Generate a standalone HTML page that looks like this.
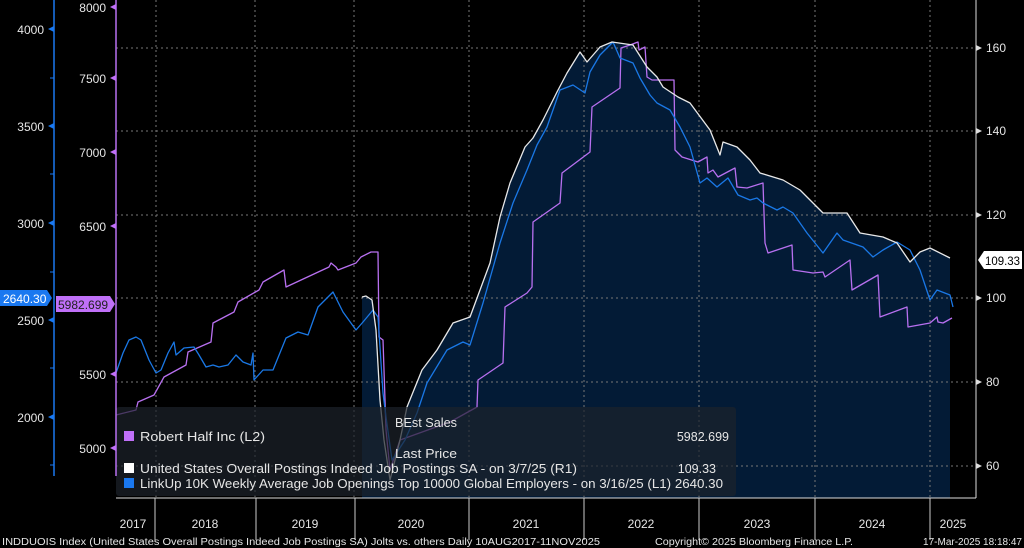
<!DOCTYPE html>
<html><head><meta charset="utf-8"><style>
html,body{margin:0;padding:0;background:#000;}
svg{display:block;font-family:"Liberation Sans",sans-serif;}
</style></head><body>
<svg width="1024" height="548" viewBox="0 0 1024 548">
<rect width="1024" height="548" fill="#000"/>
<polygon fill="#031b36" points="362,297 366,296 372,300 376,330 380,400 384,440 390,480 400,440 407,407 422,370 437,350 453,323 470,317 480,290 490,263 500,217 510,183 525,147 533,138 543,120 557,92 567,73 580,52 587,62 600,47 612,42 633,45 647,67 657,77 663,87 678,97 690,103 710,130 720,155 723,142 737,147 750,160 760,173 783,180 800,190 823,213 847,213 860,233 883,237 897,243 910,262 920,252 930,248 950,258 950,498 362,498"/>
<g stroke="#777" stroke-width="1" stroke-dasharray="2,3">
<line x1="116" y1="48" x2="976" y2="48"/><line x1="116" y1="131" x2="976" y2="131"/>
<line x1="116" y1="215" x2="976" y2="215"/><line x1="116" y1="298" x2="976" y2="298"/>
<line x1="116" y1="382" x2="976" y2="382"/><line x1="116" y1="466" x2="976" y2="466"/>
<line x1="156" y1="0" x2="156" y2="498"/><line x1="255" y1="0" x2="255" y2="498"/>
<line x1="354" y1="0" x2="354" y2="498"/><line x1="469" y1="0" x2="469" y2="498"/>
<line x1="584" y1="0" x2="584" y2="498"/><line x1="699" y1="0" x2="699" y2="498"/>
<line x1="815" y1="0" x2="815" y2="498"/><line x1="930" y1="0" x2="930" y2="498"/>
</g>
<g fill="none" stroke-width="1.3" stroke-linejoin="round">
<polyline stroke="#b870f0" points="116,415 136,410 138,402 154,395 164,377 186,365 188,352 211,342 213,323 234,312 238,302 259,290 263,282 284,270 286,287 329,267 331,263 336,267 338,270 356,263 361,257 371,252 378,252 379,337 383,340 386,430 390,470 400,440 450,422 477,407 478,380 503,363 505,307 527,293 532,287 533,222 560,203 562,173 590,152 592,107 620,88 621,48 630,45 638,42 639,50 645,47 647,77 652,80 674,80 675,150 682,157 698,162 707,157 708,173 713,170 718,177 735,168 737,187 747,188 763,183 765,243 768,253 777,250 792,245 793,270 813,273 823,272 825,277 850,260 852,290 878,275 880,317 907,307 908,327 930,323 937,317 938,322 943,323 952,318"/>
<polyline stroke="#1a78e6" points="116,373 123,353 129,340 136,337 141,340 149,360 156,373 161,370 168,353 174,342 176,355 184,348 194,347 199,355 206,367 213,365 219,367 228,365 236,355 243,362 251,365 253,353 254,380 263,370 273,370 286,338 298,332 308,335 318,307 333,292 343,312 356,330 363,322 373,310 378,317 383,393 386,417 392,460 405,440 417,413 427,383 447,350 463,342 470,345 483,303 500,243 513,203 527,170 537,145 547,127 560,90 573,85 585,93 590,72 600,55 613,42 620,58 633,63 640,78 650,95 657,103 670,110 680,127 690,147 700,183 707,178 717,187 728,178 738,195 750,200 757,198 763,203 777,210 783,207 793,213 807,233 823,253 837,233 843,240 863,247 873,257 883,250 897,242 910,250 920,270 930,300 937,290 950,295 953,307"/>
<polyline stroke="#e8e8e8" points="362,297 366,296 372,300 376,330 380,400 384,440 390,480 400,440 407,407 422,370 437,350 453,323 470,317 480,290 490,263 500,217 510,183 525,147 533,138 543,120 557,92 567,73 580,52 587,62 600,47 612,42 633,45 647,67 657,77 663,87 678,97 690,103 710,130 720,155 723,142 737,147 750,160 760,173 783,180 800,190 823,213 847,213 860,233 883,237 897,243 910,262 920,252 930,248 950,258"/>
</g>
<rect x="116" y="407" width="620" height="89" rx="3" fill="#1c222b" fill-opacity="0.7"/>
<g font-size="12.5" fill="#e6e6e6">
<text x="395" y="427" textLength="62" lengthAdjust="spacingAndGlyphs">BEst Sales</text>
<rect x="124" y="431" width="10" height="10" fill="#c070f8"/>
<text x="140" y="441" textLength="125" lengthAdjust="spacingAndGlyphs">Robert Half Inc  (L2)</text>
<text x="729" y="441" text-anchor="end">5982.699</text>
<text x="395" y="458" textLength="62" lengthAdjust="spacingAndGlyphs">Last Price</text>
<rect x="124" y="463" width="10" height="10" fill="#fff"/>
<text x="140" y="473" textLength="437" lengthAdjust="spacingAndGlyphs">United States Overall Postings Indeed Job Postings SA -  on 3/7/25  (R1)</text>
<text x="716" y="473" text-anchor="end">109.33</text>
<rect x="124" y="478" width="10" height="10" fill="#1a78f0"/>
<text x="140" y="488" textLength="583" lengthAdjust="spacingAndGlyphs">LinkUp 10K Weekly Average Job Openings Top 10000 Global Employers -  on 3/16/25  (L1) 2640.30</text>
</g>
<line x1="54" y1="0" x2="54" y2="476" stroke="#1a78f0" stroke-width="1.5"/>
<line x1="116" y1="0" x2="116" y2="476" stroke="#b870f0" stroke-width="1.5"/>
<line x1="976" y1="0" x2="976" y2="498" stroke="#ddd" stroke-width="1"/>
<line x1="116" y1="498" x2="976" y2="498" stroke="#ddd" stroke-width="1"/>
<g font-size="12" fill="#e6e6e6" text-anchor="end">
<text x="44" y="34">4000</text><text x="44" y="131">3500</text><text x="44" y="228">3000</text><text x="44" y="325">2500</text><text x="44" y="422">2000</text>
<text x="106" y="12">8000</text><text x="106" y="83">7500</text><text x="106" y="157">7000</text><text x="106" y="231">6500</text><text x="106" y="379">5500</text><text x="106" y="453">5000</text>
</g>
<g fill="#1a78f0"><polygon points="48,29 54,26 54,32"/><polygon points="48,126 54,123 54,129"/><polygon points="48,223 54,220 54,226"/><polygon points="48,320 54,317 54,323"/><polygon points="48,417 54,414 54,420"/></g>
<g fill="#c070f8"><polygon points="110,7 116,4 116,10"/><polygon points="110,78 116,75 116,81"/><polygon points="110,152 116,149 116,155"/><polygon points="110,226 116,223 116,229"/><polygon points="110,374 116,371 116,377"/><polygon points="110,448 116,445 116,451"/></g>
<g stroke="#1a78f0"><line x1="50" y1="78" x2="54" y2="78"/><line x1="50" y1="174" x2="54" y2="174"/><line x1="50" y1="272" x2="54" y2="272"/><line x1="50" y1="368" x2="54" y2="368"/><line x1="50" y1="465" x2="54" y2="465"/></g>
<g font-size="12" fill="#e6e6e6">
<text x="986" y="52">160</text><text x="986" y="135">140</text><text x="986" y="219">120</text><text x="986" y="302">100</text><text x="986" y="386">80</text><text x="986" y="470">60</text>
</g>
<g fill="#ddd"><polygon points="976,45 982,48 976,51"/><polygon points="976,128 982,131 976,134"/><polygon points="976,212 982,215 976,218"/><polygon points="976,295 982,298 976,301"/><polygon points="976,379 982,382 976,385"/><polygon points="976,463 982,466 976,469"/></g>
<polygon points="978,260 984,251 1022,251 1022,269 984,269" fill="#fff"/>
<text x="985" y="265" font-size="12" fill="#000" textLength="35" lengthAdjust="spacingAndGlyphs">109.33</text>
<polygon points="0,290 47,290 52,298 47,306 0,306" fill="#1a78f0"/>
<text x="3" y="303" font-size="12" fill="#fff">2640.30</text>
<polygon points="56,296 110,296 115,304 110,312 56,312" fill="#c070f8"/>
<text x="58" y="309" font-size="12" fill="#222">5982.699</text>
<g stroke="#ccc"><line x1="155" y1="498" x2="155" y2="540"/><line x1="256" y1="498" x2="256" y2="540"/><line x1="355" y1="498" x2="355" y2="540"/><line x1="469" y1="498" x2="469" y2="540"/><line x1="584" y1="498" x2="584" y2="540"/><line x1="699" y1="498" x2="699" y2="540"/><line x1="815" y1="498" x2="815" y2="540"/><line x1="930" y1="498" x2="930" y2="540"/></g>
<g font-size="12" fill="#e6e6e6" text-anchor="middle">
<text x="133" y="528">2017</text><text x="205" y="528">2018</text><text x="305" y="528">2019</text><text x="411" y="528">2020</text><text x="526" y="528">2021</text><text x="641" y="528">2022</text><text x="757" y="528">2023</text><text x="872" y="528">2024</text><text x="953" y="528">2025</text>
</g>
<g font-size="10" fill="#e6e6e6">
<text x="2" y="545" textLength="598" lengthAdjust="spacingAndGlyphs">INDDUOIS Index (United States Overall Postings Indeed Job Postings SA) Jolts vs. others  Daily 10AUG2017-11NOV2025</text>
<text x="655" y="545" textLength="198" lengthAdjust="spacingAndGlyphs">Copyright© 2025 Bloomberg Finance L.P.</text>
<text x="1022" y="545" text-anchor="end">17-Mar-2025 18:18:47</text>
</g>
</svg>
</body></html>
